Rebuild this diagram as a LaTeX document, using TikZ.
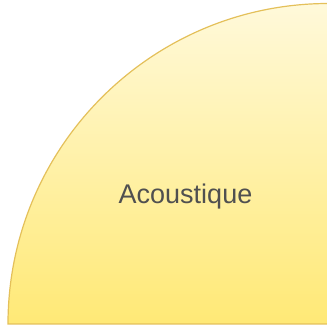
\documentclass[tikz,border=0pt]{standalone}
\usepackage{fontspec}
\setmainfont{Liberation Sans}
\definecolor{topy}{RGB}{255,249,218}
\definecolor{boty}{RGB}{255,233,118}
\definecolor{edgey}{RGB}{228,192,90}
\definecolor{txt}{RGB}{80,80,80}
\begin{document}
\begin{tikzpicture}[x=1pt,y=1pt,
  slice/.style={draw=edgey,line width=1.2pt,top color=topy,bottom color=boty},
  lbl/.style={text=txt,font=\fontsize{27}{32}\selectfont,anchor=base,inner sep=0pt}]
\useasboundingbox (0,0) rectangle (327,327);
\begin{scope}
\clip (0,0) rectangle (327,327);
\coordinate (c) at (328.5,3);
\path[slice] (c) -- (8,3) arc[start angle=180,end angle=90,radius=320.5] -- cycle;
\end{scope}
\node[lbl] (t) at (185.5,123) {Acoustique};
\end{tikzpicture}
\end{document}
